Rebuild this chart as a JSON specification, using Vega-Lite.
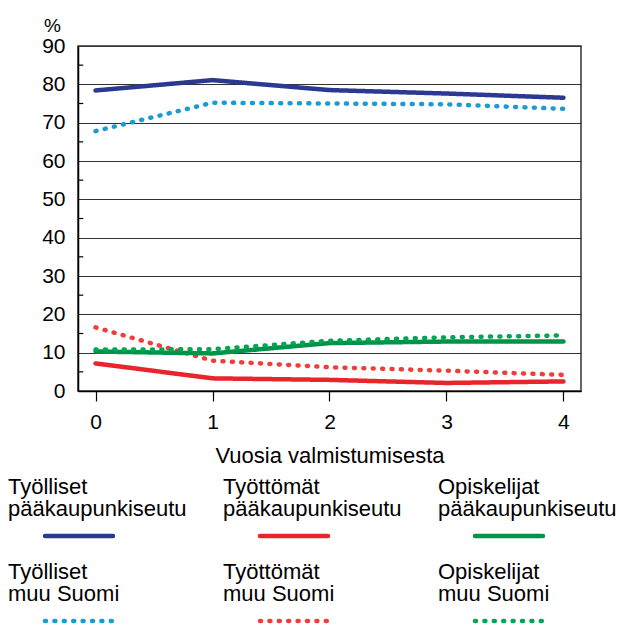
{
  "$schema": "https://vega.github.io/schema/vega-lite/v6.json",
  "padding": {"left": 8, "top": 15, "right": 0, "bottom": 0},
  "background": "white",
  "spacing": 9,
  "config": {
    "font": "Liberation Sans",
    "view": {"stroke": null},
    "axis": {"labelFont": "Liberation Sans", "titleFont": "Liberation Sans", "labelColor": "#000", "titleColor": "#000", "titleFontWeight": "normal", "labelOverlap": false}
  },
  "datasets": {
    "lines": [
      {"series": "Työlliset pääkaupunkiseutu", "alue": "pääkaupunkiseutu", "year": 0, "value": 78.4},
      {"series": "Työlliset pääkaupunkiseutu", "alue": "pääkaupunkiseutu", "year": 1, "value": 81.1},
      {"series": "Työlliset pääkaupunkiseutu", "alue": "pääkaupunkiseutu", "year": 2, "value": 78.5},
      {"series": "Työlliset pääkaupunkiseutu", "alue": "pääkaupunkiseutu", "year": 3, "value": 77.6},
      {"series": "Työlliset pääkaupunkiseutu", "alue": "pääkaupunkiseutu", "year": 4, "value": 76.5},
      {"series": "Työlliset muu Suomi", "alue": "muu Suomi", "year": 0, "value": 67.8},
      {"series": "Työlliset muu Suomi", "alue": "muu Suomi", "year": 1, "value": 75.2},
      {"series": "Työlliset muu Suomi", "alue": "muu Suomi", "year": 2, "value": 75.0},
      {"series": "Työlliset muu Suomi", "alue": "muu Suomi", "year": 3, "value": 74.8},
      {"series": "Työlliset muu Suomi", "alue": "muu Suomi", "year": 4, "value": 73.6},
      {"series": "Työttömät pääkaupunkiseutu", "alue": "pääkaupunkiseutu", "year": 0, "value": 7.2},
      {"series": "Työttömät pääkaupunkiseutu", "alue": "pääkaupunkiseutu", "year": 1, "value": 3.3},
      {"series": "Työttömät pääkaupunkiseutu", "alue": "pääkaupunkiseutu", "year": 2, "value": 2.9},
      {"series": "Työttömät pääkaupunkiseutu", "alue": "pääkaupunkiseutu", "year": 3, "value": 2.1},
      {"series": "Työttömät pääkaupunkiseutu", "alue": "pääkaupunkiseutu", "year": 4, "value": 2.5},
      {"series": "Työttömät muu Suomi", "alue": "muu Suomi", "year": 0, "value": 16.6},
      {"series": "Työttömät muu Suomi", "alue": "muu Suomi", "year": 1, "value": 7.9},
      {"series": "Työttömät muu Suomi", "alue": "muu Suomi", "year": 2, "value": 6.2},
      {"series": "Työttömät muu Suomi", "alue": "muu Suomi", "year": 3, "value": 5.3},
      {"series": "Työttömät muu Suomi", "alue": "muu Suomi", "year": 4, "value": 4.2},
      {"series": "Opiskelijat pääkaupunkiseutu", "alue": "pääkaupunkiseutu", "year": 0, "value": 10.3},
      {"series": "Opiskelijat pääkaupunkiseutu", "alue": "pääkaupunkiseutu", "year": 1, "value": 9.8},
      {"series": "Opiskelijat pääkaupunkiseutu", "alue": "pääkaupunkiseutu", "year": 2, "value": 12.5},
      {"series": "Opiskelijat pääkaupunkiseutu", "alue": "pääkaupunkiseutu", "year": 3, "value": 12.9},
      {"series": "Opiskelijat pääkaupunkiseutu", "alue": "pääkaupunkiseutu", "year": 4, "value": 12.9},
      {"series": "Opiskelijat muu Suomi", "alue": "muu Suomi", "year": 0, "value": 10.8},
      {"series": "Opiskelijat muu Suomi", "alue": "muu Suomi", "year": 1, "value": 10.9},
      {"series": "Opiskelijat muu Suomi", "alue": "muu Suomi", "year": 2, "value": 13.1},
      {"series": "Opiskelijat muu Suomi", "alue": "muu Suomi", "year": 3, "value": 14.0},
      {"series": "Opiskelijat muu Suomi", "alue": "muu Suomi", "year": 4, "value": 14.5}
    ],
    "minor": [
      {"v": 5}, {"v": 15}, {"v": 25}, {"v": 35}, {"v": 45}, {"v": 55}, {"v": 65}, {"v": 75}, {"v": 85}
    ],
    "legend": [
      {"series": "Työlliset pääkaupunkiseutu", "alue": "pääkaupunkiseutu", "label": "Työlliset\npääkaupunkiseutu", "col": 0, "row": 0},
      {"series": "Työttömät pääkaupunkiseutu", "alue": "pääkaupunkiseutu", "label": "Työttömät\npääkaupunkiseutu", "col": 1, "row": 0},
      {"series": "Opiskelijat pääkaupunkiseutu", "alue": "pääkaupunkiseutu", "label": "Opiskelijat\npääkaupunkiseutu", "col": 2, "row": 0},
      {"series": "Työlliset muu Suomi", "alue": "muu Suomi", "label": "Työlliset\nmuu Suomi", "col": 0, "row": 1},
      {"series": "Työttömät muu Suomi", "alue": "muu Suomi", "label": "Työttömät\nmuu  Suomi", "col": 1, "row": 1},
      {"series": "Opiskelijat muu Suomi", "alue": "muu Suomi", "label": "Opiskelijat\nmuu  Suomi", "col": 2, "row": 1}
    ]
  },
  "vconcat": [
    {
      "width": 503,
      "height": 345,
      "view": {"stroke": "#333", "strokeWidth": 1.5},
      "layer": [
        {
          "data": {"name": "lines"},
          "mark": {"type": "line", "strokeWidth": 4.5, "strokeCap": "round"},
          "encoding": {
            "x": {
              "field": "year", "type": "quantitative",
              "scale": {"domain": [-0.15, 4.15], "nice": false, "zero": false},
              "axis": {"values": [0, 1, 2, 3, 4], "format": "d", "grid": false, "tickSize": 10, "tickColor": "#000", "tickWidth": 1.2, "domainColor": "#000", "domainWidth": 1.5, "labelFontSize": 21, "labelPadding": 10, "labelFlush": false, "title": "Vuosia valmistumisesta", "titleFontSize": 22, "titlePadding": 13}
            },
            "y": {
              "field": "value", "type": "quantitative",
              "scale": {"domain": [0, 90], "nice": false},
              "axis": {"values": [0, 10, 20, 30, 40, 50, 60, 70, 80, 90], "grid": true, "gridColor": "#333", "gridWidth": 1.2, "ticks": false, "tickSize": 0, "domainColor": "#000", "domainWidth": 1.5, "labelFontSize": 21, "labelPadding": 13, "labelFlush": false, "title": "%", "titleAngle": 0, "titleFontSize": 19, "titleX": -26, "titleY": -15, "titleAlign": "center", "titleBaseline": "alphabetic"}
            },
            "color": {
              "field": "series", "type": "nominal", "legend": null,
              "scale": {
                "domain": ["Työlliset pääkaupunkiseutu", "Työlliset muu Suomi", "Työttömät pääkaupunkiseutu", "Työttömät muu Suomi", "Opiskelijat pääkaupunkiseutu", "Opiskelijat muu Suomi"],
                "range": ["#2B3990", "#1B9AD6", "#E8252B", "#EF3E3A", "#00934A", "#00A651"]
              }
            },
            "strokeDash": {
              "field": "alue", "type": "nominal", "legend": null,
              "scale": {"domain": ["pääkaupunkiseutu", "muu Suomi"], "range": [[1, 0], [1, 8.4]]}
            },
            "detail": {"field": "series"}
          }
        },
        {
          "data": {"name": "minor"},
          "mark": {"type": "rule", "color": "#000", "strokeWidth": 1.2},
          "encoding": {
            "x": {
              "datum": -0.15, "type": "quantitative",
              "axis": {"values": [0, 1, 2, 3, 4], "format": "d", "grid": false, "tickSize": 10, "tickColor": "#000", "tickWidth": 1.2, "domainColor": "#000", "domainWidth": 1.5, "labelFontSize": 21, "labelPadding": 10, "labelFlush": false, "title": "Vuosia valmistumisesta", "titleFontSize": 22, "titlePadding": 13}
            },
            "x2": {"datum": -0.105},
            "y": {
              "field": "v", "type": "quantitative",
              "axis": {"values": [0, 10, 20, 30, 40, 50, 60, 70, 80, 90], "grid": true, "gridColor": "#333", "gridWidth": 1.2, "ticks": false, "tickSize": 0, "domainColor": "#000", "domainWidth": 1.5, "labelFontSize": 21, "labelPadding": 13, "labelFlush": false, "title": "%", "titleAngle": 0, "titleFontSize": 19, "titleX": -26, "titleY": -15, "titleAlign": "center", "titleBaseline": "alphabetic"}
            }
          }
        }
      ]
    },
    {
      "width": 503,
      "height": 160,
      "data": {"name": "legend"},
      "layer": [
        {
          "mark": {"type": "text", "align": "left", "baseline": "top", "fontSize": 22, "lineHeight": 22, "lineBreak": "\n", "color": "#000", "font": "Liberation Sans"},
          "encoding": {
            "x": {"field": "col", "type": "quantitative", "scale": {"domain": [0, 2], "range": [-70, 360], "nice": false, "zero": false}, "axis": null},
            "y": {"field": "row", "type": "quantitative", "scale": {"domain": [0, 1], "range": [0, 85], "nice": false, "zero": false}, "axis": null},
            "text": {"field": "label", "type": "nominal"}
          }
        },
        {
          "mark": {"type": "rule", "strokeWidth": 4.5, "strokeCap": "round", "xOffset": 37, "x2Offset": 105, "yOffset": 59},
          "encoding": {
            "x": {"field": "col", "type": "quantitative", "axis": null},
            "x2": {"field": "col"},
            "y": {"field": "row", "type": "quantitative", "axis": null},
            "color": {"field": "series", "type": "nominal", "legend": null},
            "strokeDash": {"field": "alue", "type": "nominal", "legend": null}
          }
        }
      ]
    }
  ]
}
